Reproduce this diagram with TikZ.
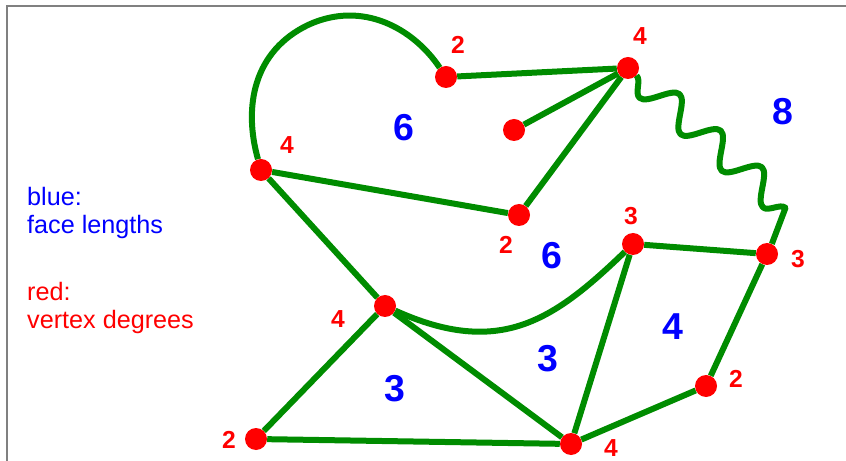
\documentclass[tikz,border=0pt]{standalone}
\usepackage{fontspec}
\setmainfont{Liberation Sans}
\usetikzlibrary{backgrounds,decorations.pathmorphing}
\definecolor{edgegreen}{HTML}{008C00}
\definecolor{degred}{HTML}{FF0000}
\definecolor{faceblue}{HTML}{0000FF}
\definecolor{framegray}{HTML}{808080}
\tikzset{
  vertex/.style={circle, fill=degred, inner sep=0pt, minimum size=0.66cm},
  edge/.style={draw=edgegreen, line width=0.18cm, line join=round},
  deg/.style={font=\fontsize{21pt}{21pt}\selectfont\bfseries\color{degred}, inner sep=0pt},
  face/.style={font=\fontsize{32pt}{32pt}\selectfont\bfseries\color{faceblue}, inner sep=0pt},
  legend/.style={font=\fontsize{21.5pt}{24pt}\selectfont, align=left, inner sep=0pt, anchor=base west},
  wavy/.style={decorate, decoration={snake, mirror, segment length=1.65cm, amplitude=0.44cm, post length=1.14cm}},
}

\begin{document}
\begin{tikzpicture}[x=0.03cm, y=-0.03cm]
  \useasboundingbox (0,0) rectangle (846,461);
  \draw[framegray, line width=0.06cm] (7,461) -- (7,6) -- (846,6);

  % vertices
  \node[vertex] (top)    at (446,77)  {};
  \node[vertex] (apex)   at (628,68)  {};
  \node[vertex] (leaf)   at (514,130) {};
  \node[vertex] (left)   at (261,170) {};
  \node[vertex] (mid)    at (519,215) {};
  \node[vertex] (rim)    at (633,244) {};
  \node[vertex] (east)   at (767,254) {};
  \node[vertex] (hub)    at (385,306) {};
  \node[vertex] (low)    at (706,386) {};
  \node[vertex] (corner) at (256,439) {};
  \node[vertex] (base)   at (571,444) {};
  \coordinate (kink) at (788,210);

  % edges
  \begin{scope}[on background layer]
    \draw[edge] (top) -- (apex);
    \draw[edge] (apex) -- (leaf);
    \draw[edge] (apex) -- (mid);
    \draw[edge] (left) -- (mid);
    \draw[edge] (left) -- (hub);
    \draw[edge] (hub) -- (corner);
    \draw[edge] (hub) -- (base);
    \draw[edge] (corner) -- (base);
    \draw[edge] (base) -- (rim);
    \draw[edge] (base) -- (low);
    \draw[edge] (low) -- (east);
    \draw[edge] (rim) -- (east);
    \draw[edge] (left) .. controls (243,106) and (254,51) .. (308,25)
                       .. controls (362,0) and (413,28) .. (top);
    \draw[edge] (hub) .. controls (500,358) and (554,320) .. (rim);
    \draw[edge, wavy] (apex) -- (kink) -- (east);
  \end{scope}

  % degrees
  \node[deg] (dtop)    at (458,45)  {2};
  \node[deg] (dapex)   at (640,36)  {4};
  \node[deg] (dleft)   at (287,145) {4};
  \node[deg] (dmid)    at (506,245) {2};
  \node[deg] (drim)    at (631,216) {3};
  \node[deg] (deast)   at (798,259) {3};
  \node[deg] (dhub)    at (338,319) {4};
  \node[deg] (dlow)    at (736,379) {2};
  \node[deg] (dcorner) at (229,440) {2};
  \node[deg] (dbase)   at (611,448) {4};

  % face lengths
  \node[face] (fouter) at (404,128) {6};
  \node[face] (fwave)  at (783,112) {8};
  \node[face] (finner) at (552,256) {6};
  \node[face] (fwedge) at (548,359) {3};
  \node[face] (fquad)  at (673,327) {4};
  \node[face] (ftri)   at (395,389) {3};

  % legend
  \node[legend, text=faceblue] (kblue) at (27,234) {blue:\\face lengths};
  \node[legend, text=degred]   (kred)  at (27,329) {red:\\vertex degrees};
\end{tikzpicture}
\end{document}
